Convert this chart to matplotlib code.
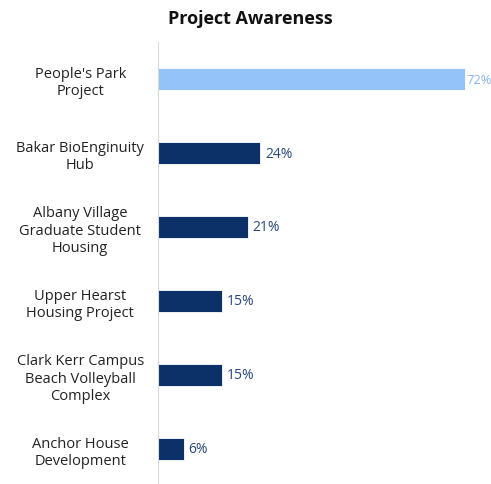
import matplotlib.pyplot as plt

# data, top to bottom
projects = ["People's Park\nProject", "Bakar BioEnginuity\nHub",
            "Albany Village\nGraduate Student\nHousing", "Upper Hearst\nHousing Project",
            "Clark Kerr Campus\nBeach Volleyball\nComplex", "Anchor House\nDevelopment"]
awareness = [72, 24, 21, 15, 15, 6]
highlight = [True, False, False, False, False, False]

dark = '#0b3168'
light = '#94c3fa'

plt.rcParams['font.family'] = ['Open Sans', 'DejaVu Sans']

fig = plt.figure(figsize=(4.91, 4.85), dpi=100)
ax = fig.add_axes([158 / 491, -2 / 485, 333 / 491, 444 / 485])

ypos = list(range(len(projects)))
colors = [light if h else dark for h in highlight]
ax.barh(ypos, awareness, height=0.3, color=colors, edgecolor='white', linewidth=0.6)
ax.set_ylim(len(projects) - 0.5, -0.5)
ax.set_xlim(0, 333 / 4.27)

for y, v, h in zip(ypos, awareness, highlight):
    ax.text(v + (0.2 if h else 1.2), y, f'{v}%', va='center', ha='left',
            fontsize=9.3 if h else 10,
            color='#8ab4ee' if h else '#27477e', clip_on=False)

ax.set_yticks(ypos)
ax.set_yticklabels(projects, fontsize=10.5, color='#222222', ha='center', linespacing=1.2)
ax.tick_params(axis='y', length=0, pad=56)
ax.set_xticks([])
for s in ['top', 'right', 'bottom']:
    ax.spines[s].set_visible(False)
ax.spines['left'].set_color('#d9d9d9')

fig.suptitle('Project Awareness', x=0.51, y=0.98, fontsize=13, fontweight='bold', color='#111111')

fig.savefig('out.png', dpi=100)
